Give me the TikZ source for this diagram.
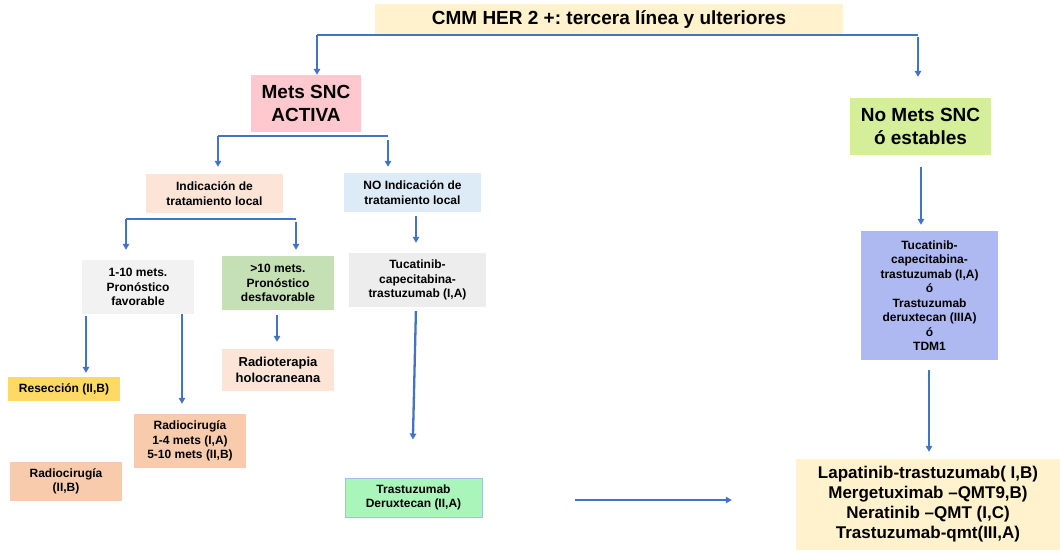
\documentclass[tikz,border=0pt]{standalone}
\usepackage{fontspec}
\setmainfont{Liberation Sans}
\usetikzlibrary{arrows.meta}
\frenchspacing

\definecolor{arrowblue}{HTML}{4472C4}
\definecolor{titlefill}{HTML}{FFF2CC}
\definecolor{pinkfill}{HTML}{FFC7CE}
\definecolor{limefill}{HTML}{D5EE9A}
\definecolor{peachfill}{HTML}{FCE4D6}
\definecolor{skyfill}{HTML}{DDEBF7}
\definecolor{greyfill}{HTML}{F2F2F2}
\definecolor{darkgreyfill}{HTML}{EDEDED}
\definecolor{sagefill}{HTML}{C5E0B4}
\definecolor{goldfill}{HTML}{FFD966}
\definecolor{salmonfill}{HTML}{F8CBAD}
\definecolor{mintfill}{HTML}{A9F5BA}
\definecolor{mintline}{HTML}{9DC3E6}
\definecolor{violetfill}{HTML}{AEB8F1}

\begin{document}
\begin{tikzpicture}[x=1pt,y=-1pt,>={Triangle[length=6pt,width=6.5pt]},
        box/.style={align=center,inner sep=0pt},
        tiny/.style={box,font=\fontsize{12}{14.5}\selectfont\bfseries},
        big/.style={box,font=\fontsize{19}{23}\selectfont\bfseries},
        branch/.style={draw=arrowblue,line width=1.6pt},
        arr/.style={->,draw=arrowblue,line width=2.3pt}]

        \useasboundingbox (0,0) rectangle (1060,550);

        % draw the boxes of the first levels
        \node[big,fill=titlefill,minimum width=468pt,minimum height=31pt] (title) at (609,19.5)
                {CMM HER 2 +: tercera línea y ulteriores};
        \node[big,fill=pinkfill,minimum width=110pt,minimum height=57pt] (mets) at (306,103.5)
                {Mets SNC\\ACTIVA};
        \node[big,fill=limefill,minimum width=141pt,minimum height=57pt] (nomets) at (920.5,126.5)
                {No Mets SNC\\ó estables};
        \node[tiny,fill=peachfill,minimum width=137pt,minimum height=39pt] (ind) at (214.5,193.5)
                {Indicación de\\tratamiento local};
        \node[tiny,fill=skyfill,minimum width=137pt,minimum height=39pt] (noind) at (412.5,192.5)
                {NO Indicación de\\tratamiento local};

        % draw the boxes of the local treatment
        \node[tiny,fill=greyfill,minimum width=112pt,minimum height=54pt] (fav) at (138,287)
                {1-10 mets.\\Pronóstico\\favorable};
        \node[tiny,fill=sagefill,minimum width=112pt,minimum height=54pt] (desfav) at (278,283)
                {>10 mets.\\Pronóstico\\desfavorable};
        \node[box,font=\fontsize{13}{16}\selectfont\bfseries,fill=peachfill,
                minimum width=112pt,minimum height=42pt] (holo) at (278,370)
                {Radioterapia\\holocraneana};
        \node[tiny,fill=goldfill,minimum width=112pt,minimum height=24pt] (resec) at (64,389)
                {Resección (II,B)};
        \node[tiny,fill=salmonfill,minimum width=112pt,minimum height=54pt] (radio) at (190,441)
                {Radiocirugía\\1-4 mets (I,A)\\5-10 mets (II,B)};
        \node[tiny,fill=salmonfill,minimum width=112pt,minimum height=39pt] (radiob) at (66,481.5)
                {Radiocirugía\\(II,B)};

        % draw the boxes of the systemic treatment
        \node[tiny,fill=darkgreyfill,minimum width=137pt,minimum height=54pt] (tuca) at (417.5,280)
                {Tucatinib-\\capecitabina-\\trastuzumab (I,A)};
        \node[tiny,fill=mintfill,draw=mintline,line width=1pt,minimum width=137pt,minimum height=39pt] (tdx) at (413.5,497.5)
                {Trastuzumab\\Deruxtecan (II,A)};
        \node[tiny,fill=violetfill,minimum width=137pt,minimum height=129pt] (tucb) at (929.5,295.5)
                {Tucatinib-\\capecitabina-\\trastuzumab (I,A)\\ó\\Trastuzumab\\deruxtecan (IIIA)\\ó\\TDM1};
        \node[box,font=\fontsize{17}{20}\selectfont\bfseries,fill=titlefill,
                minimum width=264pt,minimum height=91pt] (later) at (928,504.5)
                {Lapatinib-trastuzumab( I,B)\\Mergetuximab –QMT9,B)\\Neratinib –QMT (I,C)\\Trastuzumab-qmt(III,A)};

        % the branch points
        \coordinate (titleL) at (317,35);
        \coordinate (titleR) at (918,35);
        \coordinate (metsL) at (218,136);
        \coordinate (metsR) at (388,136);
        \coordinate (indL) at (126,219);
        \coordinate (indR) at (296,219);

        % draw the branches
        \draw[branch] (titleL) -- (titleR);
        \draw[arr] (titleL) -- (titleL |- mets.north);
        \draw[arr,shorten <=2pt,shorten >=21pt] (titleR) -- (titleR |- nomets.north);
        \draw[branch] (metsL) -- (metsR);
        \draw[arr,shorten >=7pt] (metsL) -- (metsL |- ind.north);
        \draw[arr,shorten <=4pt,shorten >=6pt] (metsR) -- (metsR |- noind.north);
        \draw[branch] (indL) -- (indR);
        \draw[arr,shorten >=10pt] (indL) -- (indL |- fav.north);
        \draw[arr,shorten <=3pt,shorten >=6pt] (indR) -- (indR |- desfav.north);

        % draw the single arrows
        \draw[arr,shorten <=4pt,shorten >=10pt] (noind.south -| 416,0) -- (tuca.north -| 416,0);
        \draw[arr,shorten <=5pt,shorten >=7pt] (desfav.south -| 277,0) -- (holo.north -| 277,0);
        \draw[arr,shorten <=2pt,shorten >=4pt] (fav.south -| 86,0) -- (resec.north -| 86,0);
        \draw[arr,shorten >=10pt] (fav.south -| 182,0) -- (radio.north -| 182,0);
        \draw[arr,shorten <=4pt,shorten >=38pt] (tuca.south -| 416,0) -- (tdx.north -| 412,0);
        \draw[arr,shorten <=92pt,shorten >=64pt] (tdx.east |- 0,500) -- (later.west |- 0,500);
        \draw[arr,shorten <=12pt,shorten >=6pt] (nomets.south -| 921,0) -- (tucb.north -| 921,0);
        \draw[arr,shorten <=10pt,shorten >=7pt] (tucb.south -| 929,0) -- (later.north -| 929,0);
\end{tikzpicture}
\end{document}
